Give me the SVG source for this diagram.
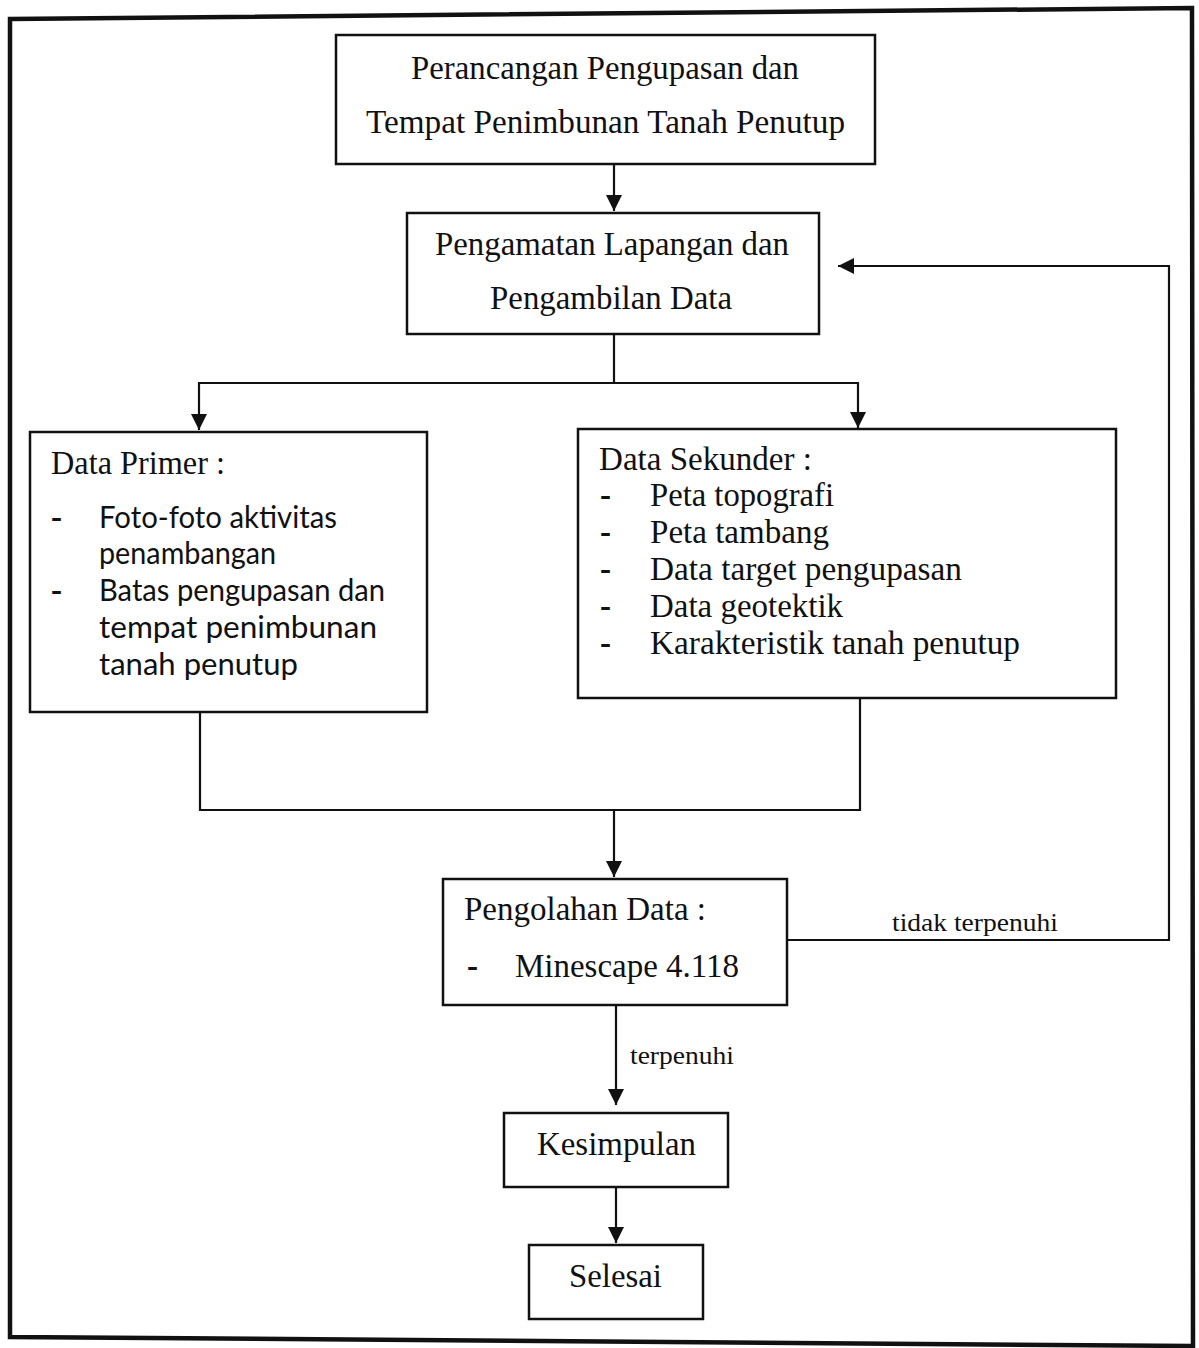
<svg xmlns="http://www.w3.org/2000/svg" width="1199" height="1348" viewBox="0 0 1199 1348">
<style>
.box{fill:#fff;stroke:#111;stroke-width:2.5}
.ln{fill:none;stroke:#111;stroke-width:2.2}
.t{font-family:"Liberation Serif","Times New Roman",serif;font-size:33px;fill:#111}
.s{font-family:Lato,"Noto Sans",sans-serif;font-size:30px;fill:#111}
.c{font-family:"Liberation Serif","Times New Roman",serif;font-size:26px;fill:#111}
</style>
<defs>
<marker id="ah" viewBox="0 0 16 18" refX="16" refY="9" markerWidth="16" markerHeight="18" markerUnits="userSpaceOnUse" orient="auto">
<path d="M0,1 L16,9 L0,17 Z" fill="#111"/>
</marker>
</defs>
<rect width="1199" height="1348" fill="#fff"/>
<polygon points="10,19 1192,8 1193,1346 10,1337" fill="none" stroke="#111" stroke-width="4.5"/>

<g id="connectors">
<path class="ln" d="M614,164 V211" marker-end="url(#ah)"/>
<path class="ln" d="M614,334 V383 H199 V430" marker-end="url(#ah)"/>
<path class="ln" d="M614,383 H858 V428" marker-end="url(#ah)"/>
<path class="ln" d="M200,712 V810 H860 V698"/>
<path class="ln" d="M614,810 V877" marker-end="url(#ah)"/>
<path class="ln" d="M787,940 H1169 V266 H838" marker-end="url(#ah)"/>
<path class="ln" d="M616,1005 V1105" marker-end="url(#ah)"/>
<path class="ln" d="M616,1187 V1243" marker-end="url(#ah)"/>
<text class="c" x="892" y="931" textLength="166" lengthAdjust="spacingAndGlyphs">tidak terpenuhi</text>
<text class="c" x="630" y="1064" textLength="104" lengthAdjust="spacingAndGlyphs">terpenuhi</text>
</g>

<g id="n1">
<rect class="box" x="336" y="35" width="539" height="129"/>
<text class="t" x="411" y="79" textLength="388" lengthAdjust="spacingAndGlyphs">Perancangan Pengupasan dan</text>
<text class="t" x="366" y="133" textLength="479" lengthAdjust="spacingAndGlyphs">Tempat Penimbunan Tanah Penutup</text>
</g>

<g id="n2">
<rect class="box" x="407" y="213" width="412" height="121"/>
<text class="t" x="435" y="255" textLength="354" lengthAdjust="spacingAndGlyphs">Pengamatan Lapangan dan</text>
<text class="t" x="490" y="309" textLength="242" lengthAdjust="spacingAndGlyphs">Pengambilan Data</text>
</g>

<g id="n3">
<rect class="box" x="30" y="432" width="397" height="280"/>
<text class="t" x="51" y="474" textLength="174" lengthAdjust="spacingAndGlyphs">Data Primer :</text>
<text class="t" x="51" y="528" font-weight="bold">-</text>
<text class="s" x="99" y="528" textLength="238" lengthAdjust="spacingAndGlyphs">Foto-foto aktivitas</text>
<text class="s" x="99" y="564" textLength="177" lengthAdjust="spacingAndGlyphs">penambangan</text>
<text class="t" x="51" y="601" font-weight="bold">-</text>
<text class="s" x="99" y="601" textLength="286" lengthAdjust="spacingAndGlyphs">Batas pengupasan dan</text>
<text class="s" x="99" y="638" textLength="278" lengthAdjust="spacingAndGlyphs">tempat penimbunan</text>
<text class="s" x="99" y="675" textLength="199" lengthAdjust="spacingAndGlyphs">tanah penutup</text>
</g>

<g id="n4">
<rect class="box" x="578" y="429" width="538" height="269"/>
<text class="t" x="599" y="470" textLength="213" lengthAdjust="spacingAndGlyphs">Data Sekunder :</text>
<text class="t" x="600" y="506" font-weight="bold">-</text>
<text class="t" x="650" y="506" textLength="184" lengthAdjust="spacingAndGlyphs">Peta topografi</text>
<text class="t" x="600" y="543" font-weight="bold">-</text>
<text class="t" x="650" y="543" textLength="179" lengthAdjust="spacingAndGlyphs">Peta tambang</text>
<text class="t" x="600" y="580" font-weight="bold">-</text>
<text class="t" x="650" y="580" textLength="312" lengthAdjust="spacingAndGlyphs">Data target pengupasan</text>
<text class="t" x="600" y="617" font-weight="bold">-</text>
<text class="t" x="650" y="617" textLength="193" lengthAdjust="spacingAndGlyphs">Data geotektik</text>
<text class="t" x="600" y="654" font-weight="bold">-</text>
<text class="t" x="650" y="654" textLength="370" lengthAdjust="spacingAndGlyphs">Karakteristik tanah penutup</text>
</g>

<g id="n5">
<rect class="box" x="443" y="879" width="344" height="126"/>
<text class="t" x="464" y="920" textLength="242" lengthAdjust="spacingAndGlyphs">Pengolahan Data :</text>
<text class="t" x="467" y="977" font-weight="bold">-</text>
<text class="t" x="515" y="977" textLength="224" lengthAdjust="spacingAndGlyphs">Minescape 4.118</text>
</g>

<g id="n6">
<rect class="box" x="504" y="1113" width="224" height="74"/>
<text class="t" x="537" y="1155" textLength="159" lengthAdjust="spacingAndGlyphs">Kesimpulan</text>
</g>

<g id="n7">
<rect class="box" x="529" y="1245" width="174" height="74"/>
<text class="t" x="569" y="1287" textLength="93" lengthAdjust="spacingAndGlyphs">Selesai</text>
</g>
</svg>
